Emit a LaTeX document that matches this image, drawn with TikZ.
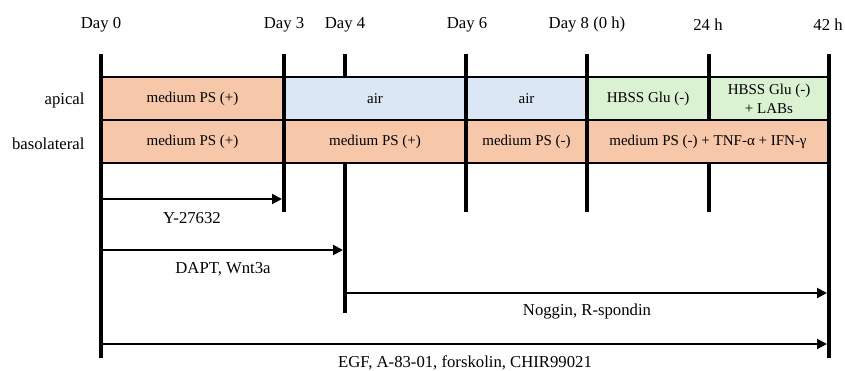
\documentclass[tikz,border=0pt]{standalone}
\usepackage{fontspec}
\setmainfont{Liberation Serif}
\usetikzlibrary{arrows.meta}
\definecolor{mediumorange}{HTML}{F7C7AA}
\definecolor{airblue}{HTML}{DCE7F5}
\definecolor{hbssgreen}{HTML}{DBF2D2}
\tikzset{
	boxtext/.style={font=\fontsize{15}{19}\selectfont, align=center},
	label/.style={font=\fontsize{16.7}{20}\selectfont},
	dayline/.style={line width=4.5pt},
	treat/.style={line width=2pt, -{Triangle[length=10pt,width=10pt]}, shorten >=2pt}
}
\begin{document}
\begin{tikzpicture}[x=1pt,y=-1pt]
	\useasboundingbox (0,0) rectangle (845,370);
	\filldraw[fill=mediumorange, draw=black, line width=2.5pt] (101,77) rectangle node[boxtext] (ap1) {medium PS (+)} (284,120);
	\filldraw[fill=airblue, draw=black, line width=2.5pt] (284,77) rectangle node[boxtext] (ap2) {air} (466,120);
	\filldraw[fill=airblue, draw=black, line width=2.5pt] (466,77) rectangle node[boxtext] (ap3) {air} (587,120);
	\filldraw[fill=hbssgreen, draw=black, line width=2.5pt] (587,77) rectangle node[boxtext] (ap4) {HBSS Glu (-)} (709,120);
	\filldraw[fill=hbssgreen, draw=black, line width=2.5pt] (709,77) rectangle node[boxtext] (ap5) {HBSS Glu (-)\\+ LABs} (829,120);
	\filldraw[fill=mediumorange, draw=black, line width=2.5pt] (101,120) rectangle node[boxtext] (ba1) {medium PS (+)} (284,163);
	\filldraw[fill=mediumorange, draw=black, line width=2.5pt] (284,120) rectangle node[boxtext] (ba2) {medium PS (+)} (466,163);
	\filldraw[fill=mediumorange, draw=black, line width=2.5pt] (466,120) rectangle node[boxtext] (ba3) {medium PS (-)} (587,163);
	\filldraw[fill=mediumorange, draw=black, line width=2.5pt] (587,120) rectangle node[boxtext] (ba4) {medium PS (-) + TNF-α + IFN-γ} (829,163);

	\draw[dayline] (101,54) -- (101,358);
	\draw[dayline] (284,54) -- (284,212);
	\draw[dayline] (345,54) -- (345,77);
	\draw[dayline] (345,163) -- (345,313);
	\draw[dayline] (466,54) -- (466,212);
	\draw[dayline] (587,54) -- (587,212);
	\draw[dayline] (709,54) -- (709,120);
	\draw[dayline] (709,163) -- (709,212);
	\draw[dayline] (829,54) -- (829,358);

	\node[label] (day0) at (101,25) {Day 0};
	\node[label] (day3) at (284,25) {Day 3};
	\node[label] (day4) at (345,25) {Day 4};
	\node[label] (day6) at (467,25) {Day 6};
	\node[label] (day8) at (587,25) {Day 8 (0 h)};
	\node[label] (h24) at (708,25) {24 h};
	\node[label] (h42) at (828,25) {42 h};
	\node[label, anchor=east] (apical) at (88,100) {apical};
	\node[label, anchor=east] (basolateral) at (88,144) {basolateral};

	\coordinate (ystart) at (101,199);
	\coordinate (yend) at (284,199);
	\coordinate (dstart) at (101,250);
	\coordinate (dend) at (345,250);
	\coordinate (nstart) at (345,293);
	\coordinate (nend) at (829,293);
	\coordinate (estart) at (101,344);
	\coordinate (eend) at (829,344);
	\draw[treat] (ystart) -- (yend);
	\draw[treat] (dstart) -- (dend);
	\draw[treat] (nstart) -- (nend);
	\draw[treat] (estart) -- (eend);

	\node[label] (ycomp) at (192,218) {Y-27632};
	\node[label] (dapt) at (223,269) {DAPT, Wnt3a};
	\node[label] (noggin) at (587,312) {Noggin, R-spondin};
	\node[label] (egf) at (465,363) {EGF, A-83-01, forskolin, CHIR99021};
\end{tikzpicture}
\end{document}
